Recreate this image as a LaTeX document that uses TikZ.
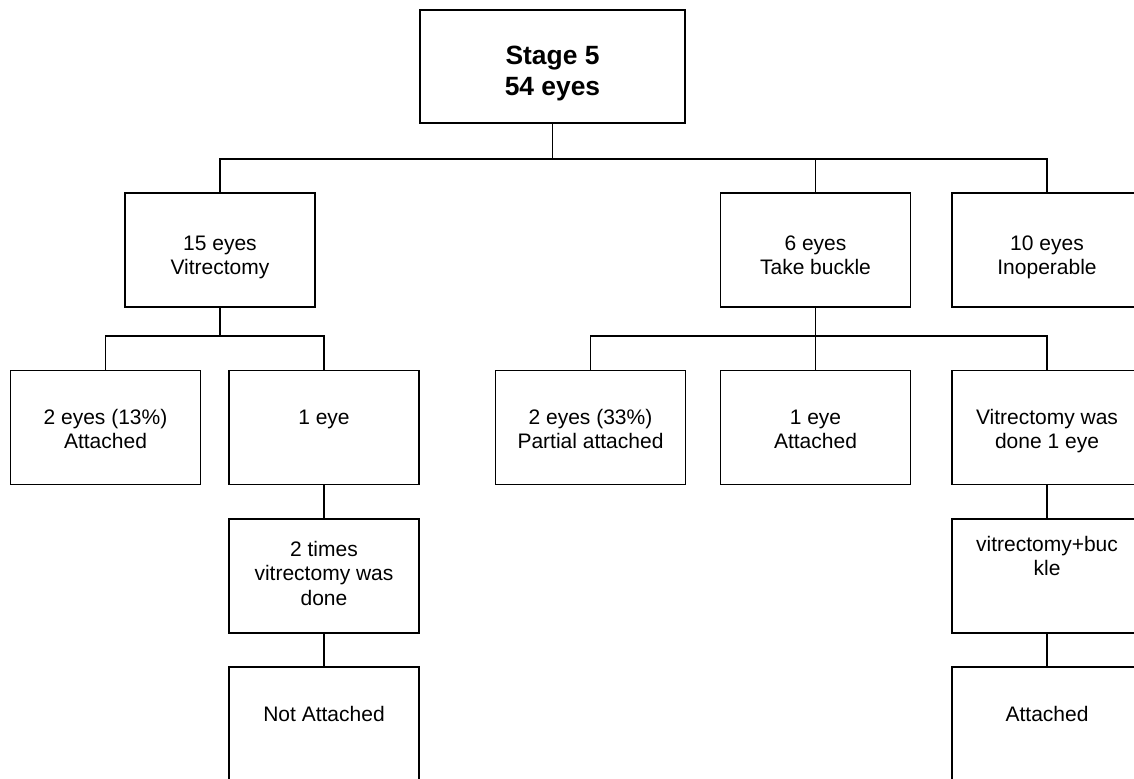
\documentclass[tikz,border=0pt]{standalone}
\usepackage{fontspec}
\setmainfont{Liberation Sans}
\usepackage{tikz}

\begin{document}
\begin{tikzpicture}[x = 0.75pt, y = -0.75pt]
	 \tikzset{
	 	box/.style = {draw, line width = 1pt, minimum width = 142.5pt, minimum height = 85.5pt,
	 		inner sep = 2pt, align = center, text depth = 4pt,
	 		font = \fontsize{15.75}{18.4}\selectfont},
	 	rootbox/.style = {box, minimum width = 198.75pt, minimum height = 84.75pt,
	 		font = \fontsize{19.8}{23.25}\selectfont\bfseries},
	 	lifted/.style = {text depth = #1},
	 	sunk/.style = {text depth = 0pt, text height = #1},
	 	link/.style = {line width = 1pt}
	 }
 
	 \useasboundingbox (0, 0) rectangle (1134, 778);
	 \clip (0, 0) rectangle (1134, 778);
 
	 \coordinate (bus1) at (0, 159);
	 \coordinate (bus2) at (0, 336);
 
	 \node[rootbox, sunk = 43.5pt] (stage) at (552.5, 66.5) {Stage 5\\54 eyes};
 
	 \node[box, sunk = 37pt] (vitr) at (220, 250) {15 eyes\\Vitrectomy};
	 \node[box, sunk = 37pt] (buckle) at (815.5, 250) {6 eyes\\Take buckle};
	 \node[box, sunk = 37pt] (inop) at (1047, 250) {10 eyes\\Inoperable};
 
	 \node[box, sunk = 32pt] (vitrAtt) at (105.5, 427.5) {2 eyes (13\%)\\Attached};
	 \node[box, lifted = 16pt] (vitrOne) at (324, 427.5) {1 eye};
	 \node[box, sunk = 32pt] (buckPart) at (590.5, 427.5) {2 eyes (33\%)\\Partial attached};
	 \node[box, sunk = 32pt] (buckAtt) at (815.5, 427.5) {1 eye\\Attached};
	 \node[box, sunk = 32pt] (buckVitr) at (1047, 427.5) {Vitrectomy was\\done 1 eye};
 
	 \node[box] (twice) at (324, 576) {2 times\\vitrectomy was\\done};
	 \node[box, lifted = 30pt] (vitrBuck) at (1047, 576) {vitrectomy+buc\\kle};
 
	 \node[box, lifted = 15pt] (notAtt) at (324, 724) {Not Attached};
	 \node[box, lifted = 15pt] (finalAtt) at (1047, 724) {Attached};
 
	 \foreach \c in {vitr, buckle, inop}
	 \draw[link] (stage.south) -- (stage.south |- bus1) -| (\c.north);
	 \foreach \c in {vitrAtt, vitrOne}
	 \draw[link] (vitr.south) -- (vitr.south |- bus2) -| (\c.north);
	 \foreach \c in {buckPart, buckAtt, buckVitr}
	 \draw[link] (buckle.south) -- (buckle.south |- bus2) -| (\c.north);
 
	 \draw[link] (vitrOne) -- (twice) -- (notAtt);
	 \draw[link] (buckVitr) -- (vitrBuck) -- (finalAtt);
\end{tikzpicture}
\end{document}
